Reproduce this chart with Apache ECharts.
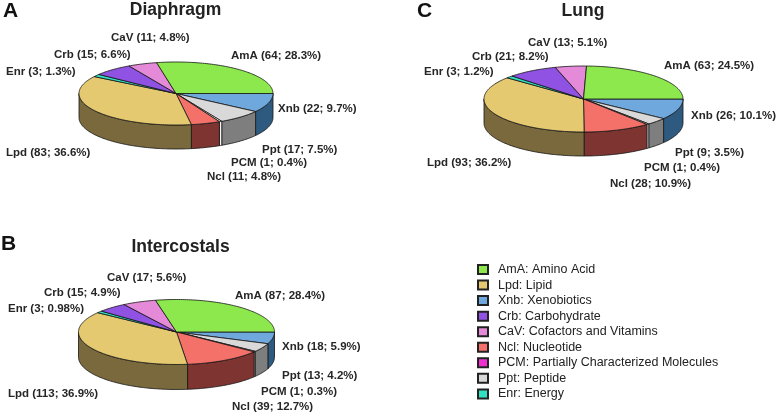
<!DOCTYPE html>
<html><head><meta charset="utf-8">
<style>html,body{margin:0;padding:0;background:#fff}#c{width:782px;height:417px}</style>
<script src="https://cdn.jsdelivr.net/npm/echarts@6/dist/echarts.min.js"></script>
</head><body><div id="c"></div>
<script>
// ---- data ----
const panels = ['Diaphragm', 'Intercostals', 'Lung'];
const panelLetters = ['A', 'B', 'C'];
// clockwise from 3 o'clock
const codes = ['Xnb', 'Ppt', 'PCM', 'Ncl', 'Lpd', 'Enr', 'Crb', 'CaV', 'AmA'];
const diaphragm   = [22, 17, 1, 11, 83, 3, 15, 11, 64];
const intercostals = [18, 13, 1, 39, 113, 3, 15, 17, 87];
const lung        = [26, 9, 1, 28, 93, 3, 21, 13, 63];
const diaphragmPct    = ['9.7%', '7.5%', '0.4%', '4.8%', '36.6%', '1.3%', '6.6%', '4.8%', '28.3%'];
const intercostalsPct = ['5.9%', '4.2%', '0.3%', '12.7%', '36.9%', '0.98%', '4.9%', '5.6%', '28.4%'];
const lungPct         = ['10.1%', '3.5%', '0.4%', '10.9%', '36.2%', '1.2%', '8.2%', '5.1%', '24.5%'];
const legendNames = ['AmA: Amino Acid', 'Lpd: Lipid', 'Xnb: Xenobiotics', 'Crb: Carbohydrate',
  'CaV: Cofactors and Vitamins', 'Ncl: Nucleotide', 'PCM: Partially Characterized Molecules', 'Ppt: Peptide', 'Enr: Energy'];

// ---- styling and layout ----
const topColors = {AmA:'#8ce84c', Lpd:'#e4c970', Xnb:'#6fa8dc', Crb:'#8f52e2', CaV:'#e48ad8', Ncl:'#f4716a', PCM:'#ee30d0', Ppt:'#d9d9d9', Enr:'#30e0c0'};
const sideColors = {AmA:'#46741f', Lpd:'#7a693c', Xnb:'#2f5a80', Crb:'#4a2a78', CaV:'#74446c', Ncl:'#7e3531', PCM:'#f4f4f4', Ppt:'#7e7e7e', Enr:'#187060'};
const geometry = [
  {cx:176, cy:93.5, rx:97, ry:31.5, depth:24},
  {cx:176.5, cy:332, rx:98, ry:32.5, depth:25},
  {cx:583.5, cy:99, rx:99.5, ry:33, depth:24}
];
const panelValues = [diaphragm, intercostals, lung];
const panelPcts = [diaphragmPct, intercostalsPct, lungPct];
// label anchor (left, vertical middle) per panel, same order as codes
const labelPos = [
  [[278,109],[262,150],[231,163],[207,177],[6,153],[6,72],[54,55],[111,38],[231,56]],
  [[282,347],[282,376],[261,392],[232,407],[8,394],[8,309],[44,293],[107,278],[235,296]],
  [[691,116],[675,153],[644,168],[610,184],[427,163],[424,72],[472,57],[528,43],[664,66]]
];
const titlePos = [[175.5,1.5],[180.5,238],[583,2]];
const letterPos = [[3,1],[1,233.5],[417,1]];

function arcPts(g, a0, a1, dy, rev) {
  const n = Math.max(2, Math.ceil((a1 - a0) / 0.02));
  const pts = [];
  for (let i = 0; i <= n; i++) {
    const t = a0 + (a1 - a0) * i / n;
    pts.push([g.cx + g.rx * Math.cos(t), g.cy + dy + g.ry * Math.sin(t)]);
  }
  return rev ? pts.reverse() : pts;
}

function renderSlice(catIndex) {
  return function (params, api) {
    const p = params.dataIndex;
    const vals = panelValues[p], g = geometry[p];
    const total = vals.reduce((s, v) => s + v, 0);
    const before = vals.slice(0, catIndex).reduce((s, v) => s + v, 0);
    const a0 = before / total * 2 * Math.PI;
    const a1 = (before + api.value(0)) / total * 2 * Math.PI;
    const code = codes[catIndex];
    const children = [];
    const stroke = {stroke:'#141414', lineWidth:0.8, lineJoin:'round'};
    // side wall: only the front half of the rim
    const s0 = a0, s1 = Math.min(a1, Math.PI);
    if (s0 < Math.PI) {
      children.push({type:'polygon', z2:1,
        shape:{points: arcPts(g, s0, s1, 0).concat(arcPts(g, s0, s1, g.depth, true))},
        style:Object.assign({fill:sideColors[code]}, stroke)});
    }
    // top face
    children.push({type:'polygon', z2:2,
      shape:{points: [[g.cx, g.cy]].concat(arcPts(g, a0, a1, 0))},
      style:Object.assign({fill: code === 'PCM' ? '#f4f4f4' : topColors[code]}, stroke)});
    // label
    const lp = labelPos[p][catIndex];
    children.push({type:'text', z2:5, x:lp[0], y:lp[1], style:{
      text: code + ' (' + api.value(0) + '; ' + panelPcts[p][catIndex] + ')',
      fill:'#262626', font:'bold 11.5px "Liberation Sans", Arial, sans-serif',
      textAlign:'left', textVerticalAlign:'middle'}});
    return {type:'group', children};
  };
}

const series = codes.map((code, i) => ({
  type:'custom',
  coordinateSystem:'none',
  name: legendNames.find(n => n.startsWith(code + ':')),
  itemStyle:{color:topColors[code], borderColor:'#222', borderWidth:1},
  data: panelValues.map(v => [v[i]]),
  renderItem: renderSlice(i),
  animation:false,
  silent:true
}));

const titles = panels.map((t, i) => ({
  text:t, left:titlePos[i][0], top:titlePos[i][1], textAlign:'center', padding:0,
  textStyle:{fontFamily:'"Liberation Sans", Arial, sans-serif', fontWeight:'bold', fontSize:17.5, color:'#222'}
})).concat(panelLetters.map((t, i) => ({
  text:t, left:letterPos[i][0], top:letterPos[i][1], padding:0,
  textStyle:{fontFamily:'"Liberation Sans", Arial, sans-serif', fontWeight:'bold', fontSize:21, color:'#111'}
})));

const chart = echarts.init(document.getElementById('c'), null, {renderer:'canvas'});
chart.setOption({
  animation:false,
  backgroundColor:'#fff',
  title:titles,
  legend:{
    orient:'vertical', left:477, top:263, padding:0, itemGap:2.55,
    itemWidth:10, itemHeight:9, icon:'rect', selectedMode:false,
    data:legendNames,
    textStyle:{fontFamily:'"Liberation Sans", Arial, sans-serif', fontSize:12.5, color:'#222', padding:[0,0,0,5]}
  },
  tooltip:{show:false},
  series
});
</script></body></html>
